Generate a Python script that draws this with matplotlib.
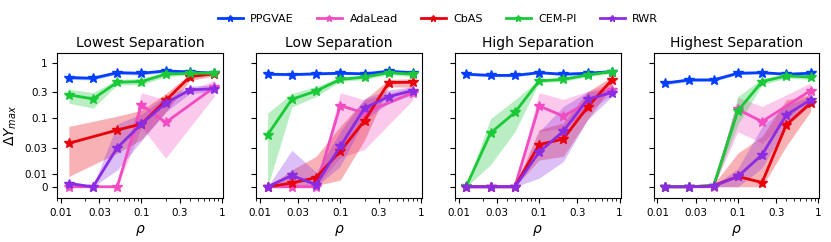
import numpy as np
import matplotlib.pyplot as plt

nan = np.nan

rho = [0.0125, 0.025, 0.05, 0.1, 0.2, 0.4, 0.8]
titles = ['Lowest Separation', 'Low Separation', 'High Separation', 'Highest Separation']
methods = ['PPGVAE', 'AdaLead', 'CbAS', 'CEM-PI', 'RWR']
colors = ['#023eff', '#f14cc1', '#e8000b', '#1ac938', '#8b2be2']

# one row per panel (lowest -> highest separation)
ppgvae_mean = [[0.54, 0.525, 0.66, 0.645, 0.71, 0.68, 0.645],
               [0.62, 0.61, 0.63, 0.645, 0.63, 0.70, 0.66],
               [0.62, 0.59, 0.59, 0.66, 0.62, 0.645, 0.69],
               [0.43, 0.49, 0.49, 0.645, 0.66, 0.62, 0.645]]
ppgvae_lo = [[0.50, 0.49, 0.62, 0.60, 0.67, 0.64, 0.61],
             [0.59, 0.58, 0.60, 0.61, 0.60, 0.66, 0.63],
             [0.59, 0.56, 0.56, 0.63, 0.59, 0.61, 0.66],
             [0.40, 0.46, 0.46, 0.61, 0.63, 0.59, 0.61]]
ppgvae_hi = [[0.58, 0.56, 0.70, 0.69, 0.75, 0.72, 0.68],
             [0.65, 0.64, 0.66, 0.68, 0.66, 0.74, 0.69],
             [0.65, 0.62, 0.62, 0.69, 0.65, 0.68, 0.72],
             [0.46, 0.52, 0.52, 0.68, 0.69, 0.65, 0.68]]

adalead_mean = [[0, 0, 0, 0.175, 0.085, nan, 0.36],
                [0, 0, 0, 0.17, 0.125, nan, 0.29],
                [0, 0, 0, 0.168, 0.11, nan, 0.33],
                [0, 0, 0, 0.145, 0.088, nan, 0.316]]
adalead_lo = [[0, 0, 0, 0.07, 0.0196, nan, 0.247],
              [0, 0, 0, 0.02, 0.028, nan, 0.215],
              [0, 0, 0, 0.058, 0.067, nan, 0.265],
              [0, 0, 0, 0.058, 0.036, nan, 0.247]]
adalead_hi = [[0, 0, 0, 0.29, 0.215, nan, 0.48],
              [0, 0, 0, 0.29, 0.215, nan, 0.37],
              [0, 0, 0, 0.29, 0.22, nan, 0.43],
              [0, 0, 0.001, 0.24, 0.164, nan, 0.43]]

cbas_mean = [[0.036, nan, 0.062, 0.080, 0.21, 0.56, 0.63],
             [0, 0.003, 0.0074, 0.026, 0.091, 0.44, 0.445],
             [0, 0, 0, 0.034, 0.043, 0.16, 0.49],
             [0, 0, 0.001, 0.0083, 0.0034, 0.077, 0.188]]
cbas_lo = [[0.0083, nan, 0.024, 0.042, 0.13, 0.48, 0.57],
           [0, 0, 0.001, 0.0054, 0.041, 0.37, 0.36],
           [0, 0, 0, 0.018, 0.021, 0.095, 0.37],
           [0, 0, 0, 0, 0, 0.032, 0.133]]
cbas_hi = [[0.072, nan, 0.11, 0.14, 0.28, 0.62, 0.69],
           [0, 0.012, 0.021, 0.072, 0.215, 0.50, 0.51],
           [0, 0, 0, 0.063, 0.083, 0.30, 0.56],
           [0, 0, 0.002, 0.024, 0.048, 0.215, 0.265]]

cempi_mean = [[0.265, 0.224, 0.445, 0.458, 0.62, 0.645, 0.645],
              [0.051, 0.22, 0.31, 0.50, 0.55, 0.66, 0.62],
              [0.0006, 0.055, 0.128, 0.47, 0.50, 0.60, 0.69],
              [0, 0, 0.001, 0.137, 0.458, 0.58, 0.55]]
cempi_lo = [[0.188, 0.153, 0.40, 0.40, 0.56, 0.60, 0.59],
            [0, 0.16, 0.247, 0.46, 0.50, 0.61, 0.56],
            [0, 0.0149, 0.058, 0.44, 0.46, 0.56, 0.64],
            [0, 0, 0, 0.077, 0.40, 0.53, 0.50]]
cempi_hi = [[0.334, 0.29, 0.50, 0.52, 0.69, 0.72, 0.72],
            [0.125, 0.28, 0.37, 0.56, 0.60, 0.72, 0.68],
            [0.001, 0.10, 0.215, 0.50, 0.55, 0.66, 0.73],
            [0, 0, 0.002, 0.247, 0.52, 0.63, 0.60]]

rwr_mean = [[0.0026, 0, 0.030, 0.080, 0.188, 0.325, 0.34],
            [0, 0.0091, 0.0017, 0.0316, 0.153, 0.247, 0.316],
            [0, 0, 0, 0.025, 0.059, 0.22, 0.29],
            [0, 0, 0.0005, 0.0083, 0.0225, 0.116, 0.215]]
rwr_lo = [[0.0003, 0, 0.012, 0.04, 0.13, 0.28, 0.30],
          [0, 0, 0, 0.014, 0.095, 0.188, 0.265],
          [0, 0, 0, 0.0069, 0.017, 0.095, 0.247],
          [0, 0, 0, 0, 0.013, 0.072, 0.175]]
rwr_hi = [[0.005, 0.0005, 0.08, 0.12, 0.25, 0.38, 0.40],
          [0, 0.027, 0.011, 0.058, 0.23, 0.325, 0.37],
          [0, 0, 0, 0.058, 0.164, 0.30, 0.35],
          [0, 0, 0.001, 0.0127, 0.072, 0.175, 0.247]]

means = [ppgvae_mean, adalead_mean, cbas_mean, cempi_mean, rwr_mean]
los = [ppgvae_lo, adalead_lo, cbas_lo, cempi_lo, rwr_lo]
his = [ppgvae_hi, adalead_hi, cbas_hi, cempi_hi, rwr_hi]

yticks = [0, 0.01, 0.03, 0.1, 0.3, 1]
ytick_labels = ['0', '0.01', '0.03', '0.1', '0.3', '1']
xticks = [0.01, 0.03, 0.1, 0.3, 1]
xtick_labels = ['0.01', '0.03', '0.1', '0.3', '1']

fig, axes = plt.subplots(1, 4, figsize=(8.31, 2.42), dpi=100)
fig.subplots_adjust(left=0.069, right=0.986, bottom=0.182, top=0.782, wspace=0.2)

handles = []
for p, ax in enumerate(axes):
    for m in range(len(methods)):
        x = np.array(rho)
        y = np.array(means[m][p], dtype=float)
        lo = np.array(los[m][p], dtype=float)
        hi = np.array(his[m][p], dtype=float)
        ok = ~np.isnan(y)
        ax.fill_between(x[ok], lo[ok], hi[ok], color=colors[m], alpha=0.3, lw=0)
        h, = ax.plot(x[ok], y[ok], color=colors[m], lw=2, marker='*', ms=7, label=methods[m])
        if p == 0:
            handles.append(h)
    ax.set_xscale('log')
    ax.set_yscale('symlog', linthresh=0.01, linscale=0.2)
    ax.set_xlim(0.009, 1.03)
    ax.set_ylim(-0.009, 1.5)
    ax.set_xticks(xticks)
    ax.set_xticklabels(xtick_labels)
    ax.set_yticks(yticks)
    ax.yaxis.set_minor_locator(plt.NullLocator())
    if p == 0:
        ax.set_yticklabels(ytick_labels)
        ax.set_ylabel(r'$\Delta Y_{max}$', fontsize=10)
    else:
        ax.set_yticklabels([])
    ax.tick_params(labelsize=7.5)
    ax.set_xlabel(r'$\rho$', fontsize=10)
    ax.set_title(titles[p], fontsize=10, pad=4)

fig.legend(handles=handles, loc='upper center', bbox_to_anchor=(0.527, 0.985), ncol=5,
           frameon=False, fontsize=8, markerscale=0.7, handlelength=2.25,
           handletextpad=0.7, columnspacing=2.05)

plt.savefig('out.png', dpi=100)
